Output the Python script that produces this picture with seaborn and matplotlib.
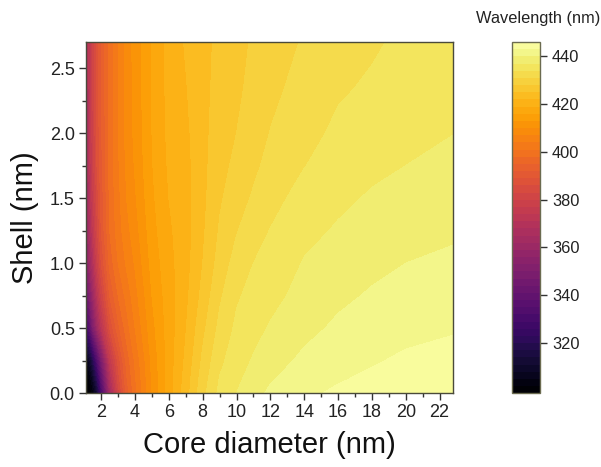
import numpy as np
import matplotlib
matplotlib.use("Agg")
import matplotlib.pyplot as plt
import seaborn as sns

# Core diameters (nm) - columns of the grid
core_diameter = [1.1, 1.3, 1.5, 1.75, 2, 2.5, 3, 3.5, 4, 5, 6, 7, 8, 9, 10, 11, 12, 14, 16, 18, 20, 22.8]
# Shell thickness (nm) - rows of the grid
shell = [0.0, 0.1, 0.25, 0.5, 0.75, 1.0, 1.25, 1.5, 1.75, 2.0, 2.35, 2.7]

# Wavelength (nm) per shell row
wl_s000 = [299.5, 300, 303, 312, 329, 362, 381, 393, 400, 410, 417.5, 423.5, 430, 434.8, 437.0, 439.0, 440.5, 442.4, 443.5, 444.4, 445.0, 445.6]
wl_s010 = [300, 302, 308, 320, 337, 367, 384, 394.5, 400.5, 410.3, 417.5, 423.2, 429.5, 434.2, 436.4, 438.3, 439.8, 441.6, 442.8, 443.6, 444.4, 445.0]
wl_s025 = [303, 309, 318, 333, 348, 374, 387, 396, 401.5, 410.8, 417.3, 422.6, 428.6, 433.3, 435.6, 437.3, 438.8, 440.6, 441.8, 442.7, 443.5, 444.1]
wl_s050 = [324, 336, 349, 361, 371, 386, 394, 399.5, 404, 412, 417.3, 421.8, 427.2, 431.8, 434.6, 436.0, 437.3, 439.2, 440.5, 441.4, 442.1, 442.7]
wl_s075 = [340, 350, 360, 371, 380, 392, 398, 402, 405.8, 413, 417.6, 421.2, 425.9, 430.5, 433.6, 435.0, 436.0, 438.1, 439.4, 440.3, 441.0, 441.6]
wl_s100 = [350, 360, 368, 378, 386, 396, 401, 404.5, 407.3, 414, 418.0, 420.8, 425.0, 429.2, 432.2, 434.0, 435.0, 437.2, 438.3, 439.3, 440.0, 440.5]
wl_s125 = [355, 365, 373, 382, 389, 398, 402.5, 406, 408.6, 414.8, 418.5, 420.7, 424.5, 428.3, 430.8, 432.8, 434.1, 436.2, 437.3, 438.3, 439.0, 439.6]
wl_s150 = [358, 368, 376, 384, 390, 398.5, 403, 407, 409.6, 415.4, 419.0, 420.8, 424.2, 427.6, 429.6, 431.4, 433.0, 435.1, 436.4, 437.3, 438.0, 438.7]
wl_s175 = [360, 370, 378, 386, 391, 399, 403.5, 407.5, 410.3, 415.8, 419.4, 421.0, 424.1, 427.0, 428.7, 430.3, 432.0, 433.9, 435.5, 436.4, 437.0, 437.8]
wl_s200 = [361, 371, 379, 386.5, 391.5, 399, 404, 408, 410.7, 416.0, 419.7, 421.3, 424.1, 426.5, 428.0, 429.5, 431.1, 433.0, 434.6, 435.5, 436.2, 436.95]
wl_s235 = [362, 372, 380, 387, 392, 399, 404, 408, 411.0, 416.1, 419.9, 421.8, 424.1, 426.0, 427.5, 428.7, 430.2, 432.1, 433.6, 434.4, 435.3, 436.2]
wl_s270 = [362, 372, 380, 387, 392, 399, 404, 408, 411.2, 416.2, 420.0, 422.3, 424.2, 425.6, 427.2, 428.3, 429.4, 431.3, 432.8, 433.6, 434.6, 435.6]

cbar_ticks = [320, 340, 360, 380, 400, 420, 440]
x_ticks = [2, 4, 6, 8, 10, 12, 14, 16, 18, 20, 22]
y_ticks = [0.0, 0.5, 1.0, 1.5, 2.0, 2.5]

sns.set_style("ticks")
plt.rcParams['font.family'] = ['Liberation Sans', 'DejaVu Sans']

Z = np.array([wl_s000, wl_s010, wl_s025, wl_s050, wl_s075, wl_s100,
              wl_s125, wl_s150, wl_s175, wl_s200, wl_s235, wl_s270])
X, Y = np.meshgrid(core_diameter, shell)

cmap = sns.color_palette("inferno", as_cmap=True)
levels = np.arange(299, 447, 3)

fig = plt.figure(figsize=(6.01, 4.67), dpi=100)
ax = fig.add_axes([0.143, 0.158, 0.611, 0.752])
cax = fig.add_axes([0.852, 0.158, 0.047, 0.752])

cf = ax.contourf(X, Y, Z, levels=levels, cmap=cmap, vmin=299, vmax=446)
ax.set_xlim(1.1, 22.8)
ax.set_ylim(0, 2.7)

edge = '#4a4a3a'
for sp in ax.spines.values():
    sp.set_color(edge)
    sp.set_linewidth(1.0)

ax.set_xticks(x_ticks)
ax.set_xticks(np.arange(3, 23, 2), minor=True)
ax.set_yticks(y_ticks)
ax.set_yticks(np.arange(0.25, 2.7, 0.5), minor=True)
ax.set_yticklabels([f"{v:.1f}" for v in y_ticks])
ax.tick_params(axis='both', which='major', direction='out', length=5, width=1,
               labelsize=13, color='#333333', labelcolor='#222222', pad=3)
ax.tick_params(axis='both', which='minor', direction='out', length=3, width=1, color='#333333')
ax.set_xlabel("Core diameter (nm)", fontsize=21, labelpad=7, color='#111111')
ax.set_ylabel("Shell (nm)", fontsize=21, labelpad=8, color='#111111')

cb = fig.colorbar(cf, cax=cax, ticks=cbar_ticks)
cb.ax.set_ylim(299, 446)
cb.outline.set_edgecolor('#6b6b50')
cb.outline.set_linewidth(1.0)
cb.ax.tick_params(direction='out', length=5, width=1, labelsize=11.8, color='#333333',
                  labelcolor='#222222')
cb.ax.minorticks_off()
fig.text(0.896, 0.961, "Wavelength (nm)", ha='center', va='center', fontsize=11.8, color='#222222')

fig.savefig("out.png", dpi=100)
